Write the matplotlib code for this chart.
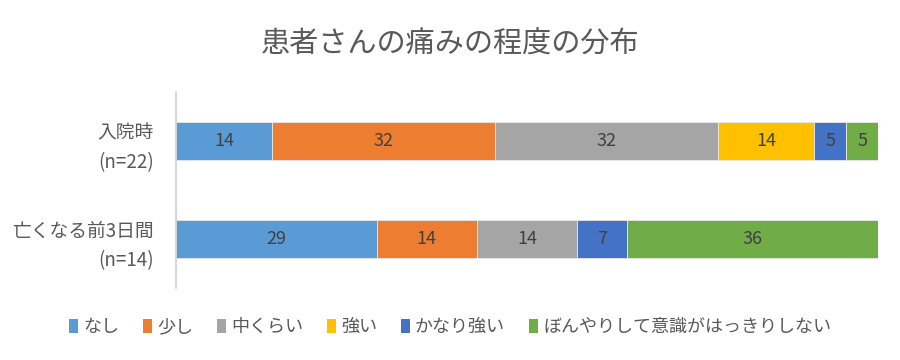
import numpy as np
import matplotlib
matplotlib.use("Agg")
import matplotlib.pyplot as plt
from matplotlib.patches import Patch

plt.rcParams['font.family'] = ['Noto Sans CJK JP', 'DejaVu Sans']

# data: number of patients per pain level
groups = ["入院時\n(n=22)", "亡くなる前3日間\n(n=14)"]
levels = ["なし", "少し", "中くらい", "強い", "かなり強い", "ぼんやりして意識がはっきりしない"]
counts_admission = [3, 7, 7, 3, 1, 1]
counts_last3days = [4, 2, 2, 0, 1, 5]
n_patients = [22, 14]

colors = ["#5B9BD5", "#ED7D31", "#A5A5A5", "#FFC000", "#4472C4", "#70AD47"]

counts = np.array([counts_admission, counts_last3days], dtype=float)
pct = counts / np.array(n_patients)[:, None] * 100

fig = plt.figure(figsize=(9, 3.6), dpi=100)
ax = fig.add_axes([0.1956, 0.2, 0.78, 0.544])

ypos = np.arange(len(groups))
left = np.zeros(len(groups))
for i, lev in enumerate(levels):
    w = pct[:, i]
    ax.barh(ypos, w, left=left, height=0.39, color=colors[i],
            edgecolor="#E8E8E8", linewidth=0.6, label=lev)
    for j in range(len(groups)):
        if w[j] > 0:
            ax.text(left[j] + w[j] / 2, ypos[j], str(int(round(w[j]))),
                    ha="center", va="center", fontsize=13, color="#404040")
    left += w

ax.set_xlim(0, 100)
ax.set_ylim(1.5, -0.5)
ax.set_yticks(ypos)
ax.set_yticklabels(groups, fontsize=13.5, color="#595959", linespacing=1.55)
ax.tick_params(axis="y", length=0, pad=16)
ax.set_xticks([])
for s in ["top", "right", "bottom"]:
    ax.spines[s].set_visible(False)
ax.spines["left"].set_color("#D0D0D0")
ax.spines["left"].set_linewidth(1.2)

fig.text(0.5, 0.875, "患者さんの痛みの程度の分布", ha="center", va="center",
         fontsize=21, color="#595959")

handles = [Patch(facecolor=c, edgecolor="none") for c in colors]
fig.legend(handles, levels, loc="center", bbox_to_anchor=(0.5, 0.092), ncol=6,
           frameon=False, fontsize=13, labelcolor="#595959",
           handlelength=0.5, handleheight=0.8, handletextpad=0.3, columnspacing=1.3)

fig.savefig("out.png", dpi=100, facecolor="white")
